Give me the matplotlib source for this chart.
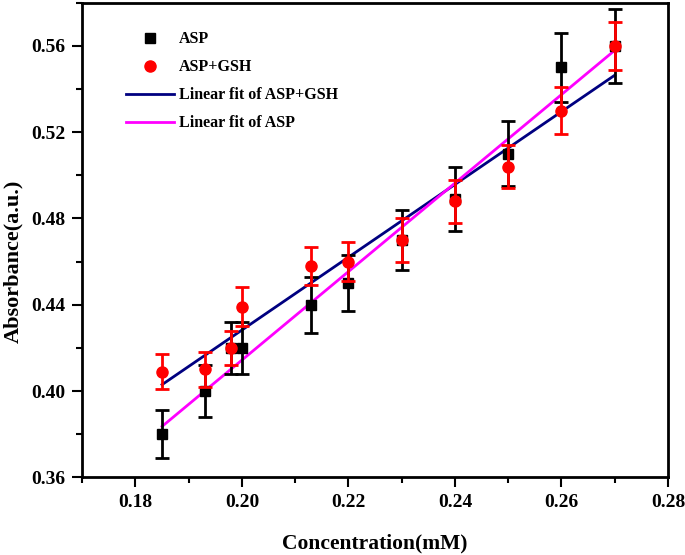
import numpy as np
import matplotlib.pyplot as plt
from matplotlib.lines import Line2D
from matplotlib.ticker import MultipleLocator

conc = [0.185, 0.193, 0.198, 0.200, 0.213, 0.220, 0.230, 0.240, 0.250, 0.260, 0.270]
asp = [0.380, 0.400, 0.420, 0.420, 0.440, 0.450, 0.470, 0.489, 0.510, 0.550, 0.560]
asp_err = [0.011, 0.012, 0.012, 0.012, 0.013, 0.013, 0.014, 0.015, 0.015, 0.016, 0.017]
gsh = [0.409, 0.410, 0.420, 0.439, 0.458, 0.460, 0.470, 0.488, 0.504, 0.530, 0.560]
gsh_err = [0.008, 0.008, 0.008, 0.009, 0.009, 0.009, 0.010, 0.010, 0.010, 0.011, 0.011]

plt.rcParams['font.family'] = ['Liberation Serif', 'DejaVu Serif']
plt.rcParams['font.weight'] = 'bold'

fig = plt.figure(figsize=(6.85, 5.55), dpi=100)
ax = fig.add_axes([0.12, 0.14, 0.855, 0.855])

x = np.array(conc)
xx = np.array([x.min(), x.max()])

# linear fits
k1, b1 = np.polyfit(x, gsh, 1)
k2, b2 = np.polyfit(x, asp, 1)

ax.errorbar(conc, asp, yerr=asp_err, fmt='s', color='black', ms=7,
            ecolor='black', elinewidth=2, capsize=5, capthick=2, zorder=3)
ax.errorbar(conc, gsh, yerr=gsh_err, fmt='o', color='red', ms=8,
            ecolor='red', elinewidth=2, capsize=5, capthick=2, zorder=4)
ax.plot(xx, k1 * xx + b1, color='#000080', lw=2, zorder=2)
ax.plot(xx, k2 * xx + b2, color='#ff00ff', lw=2, zorder=2)

ax.set_xlim(0.17, 0.28)
ax.set_ylim(0.36, 0.58)
ax.xaxis.set_major_locator(MultipleLocator(0.02))
ax.xaxis.set_minor_locator(MultipleLocator(0.01))
ax.yaxis.set_major_locator(MultipleLocator(0.04))
ax.yaxis.set_minor_locator(MultipleLocator(0.02))
ax.xaxis.set_major_formatter(plt.FormatStrFormatter('%.2f'))
ax.yaxis.set_major_formatter(plt.FormatStrFormatter('%.2f'))
ax.tick_params(which='major', direction='out', length=7, width=1.5, labelsize=14, pad=5)
ax.tick_params(which='minor', direction='out', length=4, width=1.5)
for s in ax.spines.values():
    s.set_linewidth(2)

ax.set_xlabel('Concentration(mM)', fontsize=15.5, fontweight='bold', labelpad=16)
ax.set_ylabel('Absorbance(a.u.)', fontsize=16, fontweight='bold', va='center')
ax.yaxis.set_label_coords(-0.118, 0.455)

handles = [
    Line2D([], [], ls='none', marker='s', color='black', ms=7),
    Line2D([], [], ls='none', marker='o', color='red', ms=8),
    Line2D([], [], color='#000080', lw=2),
    Line2D([], [], color='#ff00ff', lw=2),
]
labels = ['ASP', 'ASP+GSH', 'Linear fit of ASP+GSH', 'Linear fit of ASP']
ax.legend(handles, labels, loc='upper left', frameon=False, fontsize=11.5,
          bbox_to_anchor=(0.05, 0.97), handlelength=3.0, labelspacing=0.75,
          handletextpad=0.3)

fig.savefig('out.png', dpi=100)
